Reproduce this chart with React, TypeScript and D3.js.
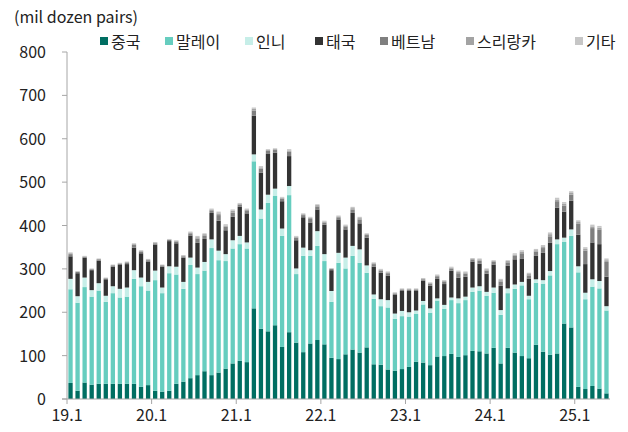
import React from 'react'
import * as d3 from 'd3'

const years = ['19', '20', '21', '22', '23', '24', '25']
const tickLabels = ['19.1', '20.1', '21.1', '22.1', '23.1', '24.1', '25.1']
const yTicks = [0, 100, 200, 300, 400, 500, 600, 700, 800]

const seriesNames = ['중국', '말레이', '인니', '태국', '베트남', '스리랑카', '기타']
const seriesColors = ['#006e62', '#66cdbf', '#c6eee8', '#333333', '#7f7f7f', '#a3a3a3', '#c6c6c6']

// monthly, 2019.1 ~ 2025.5
const china = [
  37, 19, 38, 33, 35, 35, 35, 35, 35, 35, 28, 32,
  19, 17, 19, 35, 40, 48, 55, 64, 55, 61, 70, 82,
  88, 85, 209, 162, 156, 170, 120, 154, 130, 108, 128, 136,
  126, 95, 92, 103, 114, 107, 119, 80, 79, 68, 65, 69,
  74, 86, 84, 78, 98, 99, 104, 97, 101, 111, 110, 105,
  118, 82, 118, 107, 99, 94, 125, 109, 102, 105, 174, 165,
  28, 23, 30, 24, 13,
]
const malaysia = [
  216, 203, 220, 203, 215, 189, 209, 199, 201, 242, 232, 218,
  255, 227, 271, 252, 214, 261, 233, 232, 293, 259, 248, 265,
  269, 262, 339, 254, 296, 298, 256, 316, 158, 222, 202, 217,
  192, 129, 222, 198, 216, 207, 172, 151, 135, 143, 120, 122,
  116, 110, 134, 121, 129, 109, 124, 124, 127, 136, 140, 133,
  127, 112, 126, 147, 163, 136, 143, 157, 183, 252, 188, 211,
  264, 207, 229, 231, 191,
]
const indonesia = [
  24, 15, 22, 15, 17, 14, 16, 20, 21, 20, 20, 20,
  22, 13, 16, 18, 16, 17, 15, 20, 20, 22, 16, 19,
  19, 14, 16, 21, 19, 17, 17, 21, 13, 19, 13, 34,
  16, 25, 23, 25, 23, 31, 17, 10, 16, 17, 12, 12,
  10, 8, 8, 10, 5, 9, 6, 11, 8, 10, 10, 9,
  12, 11, 11, 10, 8, 8, 8, 8, 10, 11, 10, 15,
  14, 15, 17, 17, 10,
]
const thailand = [
  52, 53, 46, 46, 52, 38, 45, 55, 54, 52, 56, 47,
  60, 48, 58, 54, 56, 51, 57, 53, 61, 69, 55, 54,
  67, 67, 89, 85, 94, 83, 63, 69, 65, 70, 64, 50,
  68, 48, 77, 65, 76, 60, 64, 64, 61, 56, 43, 46,
  49, 45, 47, 52, 45, 48, 62, 48, 46, 60, 52, 42,
  53, 56, 52, 58, 54, 39, 54, 63, 65, 73, 60, 66,
  73, 66, 85, 85, 68,
]
const vietnam = [
  5, 3, 2, 2, 3, 2, 3, 3, 3, 6, 4, 3,
  3, 3, 3, 4, 3, 5, 10, 8, 6, 13, 8, 10,
  5, 7, 12, 9, 7, 6, 6, 10, 6, 5, 8, 7,
  5, 3, 5, 7, 8, 9, 6, 6, 5, 6, 3, 3,
  3, 3, 3, 5, 6, 5, 5, 10, 7, 5, 7, 7,
  6, 10, 8, 8, 12, 8, 10, 11, 15, 15, 14, 14,
  25, 31, 33, 34, 34,
]
const sriLanka = [
  2, 1, 1, 1, 1, 1, 1, 1, 2, 2, 2, 2,
  2, 1, 1, 2, 2, 2, 3, 3, 2, 4, 3, 4,
  2, 2, 4, 3, 2, 2, 2, 3, 2, 2, 3, 3,
  2, 1, 2, 2, 3, 3, 2, 2, 2, 2, 2, 2,
  2, 2, 2, 2, 2, 2, 2, 3, 3, 2, 3, 3,
  2, 3, 3, 3, 4, 3, 3, 4, 5, 4, 4, 4,
  4, 4, 4, 4, 4,
]
const others = [
  2, 1, 1, 1, 1, 1, 1, 1, 1, 2, 1, 1,
  1, 1, 1, 1, 1, 2, 3, 2, 2, 4, 3, 3,
  2, 2, 3, 3, 2, 2, 2, 3, 2, 2, 2, 2,
  2, 1, 2, 2, 3, 3, 2, 2, 2, 2, 1, 1,
  1, 1, 1, 1, 2, 2, 2, 3, 2, 1, 2, 2,
  2, 3, 2, 3, 3, 3, 3, 3, 4, 4, 4, 4,
  4, 4, 4, 4, 4,
]

const seriesValues = [china, malaysia, indonesia, thailand, vietnam, sriLanka, others]

const months: string[] = []
years.forEach(y => {
  for (let m = 1; m <= 12; m++) months.push(`${y}.${m}`)
})
months.length = china.length

const rows = months.map((m, i) => {
  const r: any = { month: m }
  seriesNames.forEach((s, j) => (r[s] = seriesValues[j][i]))
  return r
})

const W = 628
const H = 432
const font = "'Noto Sans CJK KR', 'Noto Sans', sans-serif"

export default function App() {
  const x = d3
    .scaleBand()
    .domain(months)
    .range([67, 610])
    .paddingInner(0.39)
    .paddingOuter(0.195)
  const y = d3.scaleLinear().domain([0, 800]).range([399, 52])
  const stacked = d3.stack().keys(seriesNames)(rows)
  const gap = (x.step() - x.bandwidth()) / 2
  const x0 = x.range()[0]

  const legendX = [100, 165, 245, 315, 380, 466, 575]

  return (
    <svg
      width={W}
      height={H}
      style={{ position: 'absolute', left: 0, top: 0, background: '#fff' }}
      fontFamily={font}
    >
      <text x={14} y={23} fontSize={16} fill="#222">
        (mil dozen pairs)
      </text>

      {seriesNames.map((s, i) => (
        <g key={s} transform={`translate(${legendX[i]},42)`}>
          <rect x={0} y={-5} width={8} height={8} fill={seriesColors[i]} />
          <text x={11} y={6} fontSize={16} fill="#222">
            {s}
          </text>
        </g>
      ))}

      {stacked.map((layer, i) => (
        <g key={layer.key} fill={seriesColors[i]}>
          {layer.map((d: any) => (
            <rect
              key={d.data.month}
              x={x(d.data.month)}
              y={y(d[1])}
              width={x.bandwidth()}
              height={Math.max(0, y(d[0]) - y(d[1]))}
            />
          ))}
        </g>
      ))}

      {/* y axis */}
      <line x1={x0} x2={x0} y1={y(800)} y2={y(0)} stroke="#a6a6a6" />
      {yTicks.map(t => (
        <g key={t}>
          <line x1={x0 - 5} x2={x0} y1={y(t)} y2={y(t)} stroke="#a6a6a6" />
          <text x={46} y={y(t) + 6} fontSize={16} textAnchor="end" fill="#222">
            {t}
          </text>
        </g>
      ))}

      {/* x axis */}
      <line x1={x0 - 5} x2={x.range()[1]} y1={y(0)} y2={y(0)} stroke="#a6a6a6" />
      {tickLabels.map(l => {
        const tx = (x(l) as number) - gap
        return (
          <g key={l}>
            <line x1={tx} x2={tx} y1={y(0)} y2={y(0) + 5} stroke="#a6a6a6" />
            <text x={tx} y={y(0) + 22} fontSize={16} textAnchor="middle" fill="#222">
              {l}
            </text>
          </g>
        )
      })}
    </svg>
  )
}
